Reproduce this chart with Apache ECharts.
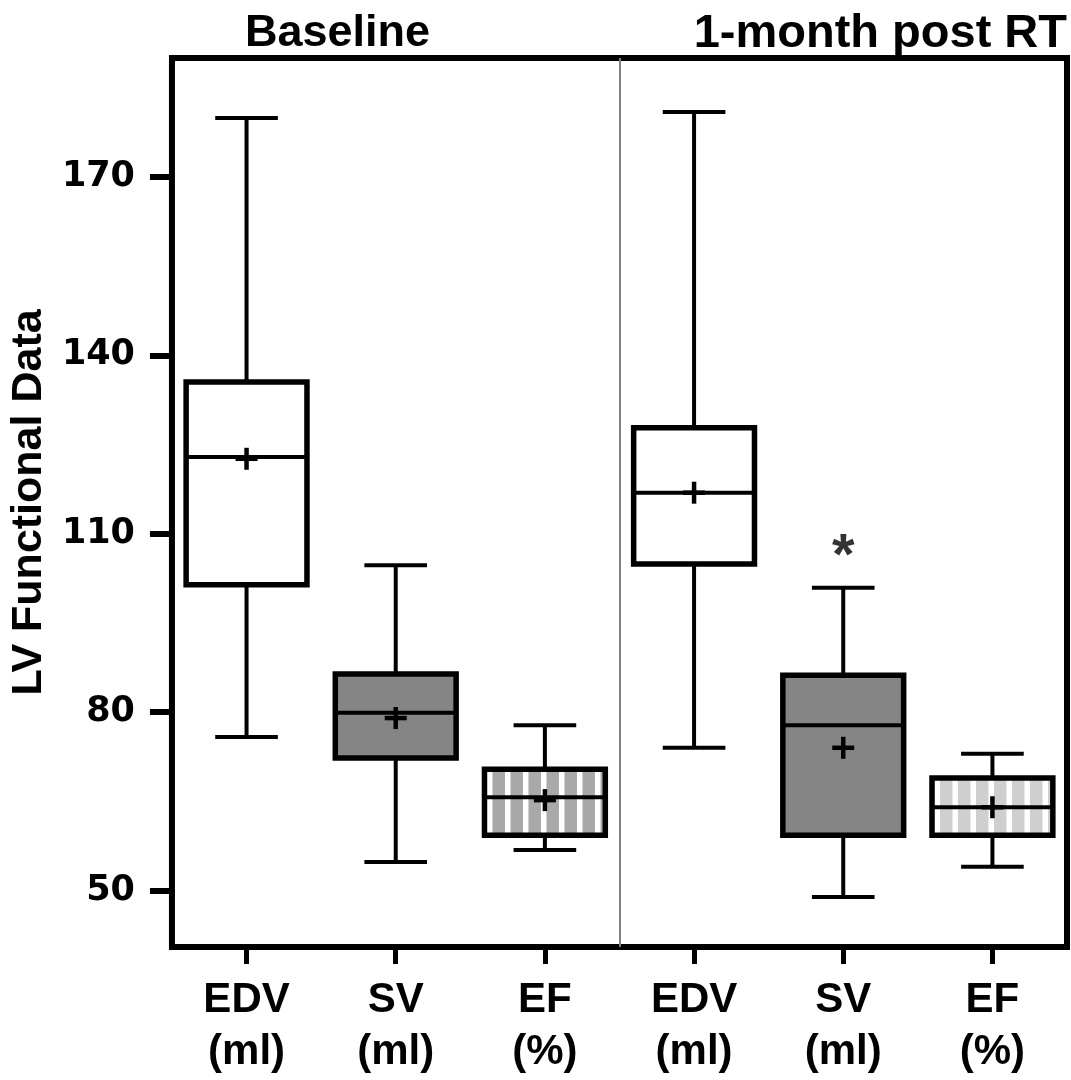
<!DOCTYPE html>
<html>
<head>
<meta charset="utf-8">
<script src="https://cdn.jsdelivr.net/npm/echarts@6/dist/echarts.min.js"></script>
<style>
html, body { margin: 0; padding: 0; background: #fff; }
#chart { width: 1071px; height: 1080px; }
</style>
</head>
<body>
<div id="chart"></div>
<script>
// categories (two groups of three)
var categories = ['EDV\n(ml)', 'SV\n(ml)', 'EF\n(%)', 'EDV\n(ml)', 'SV\n(ml)', 'EF\n(%)'];
var groupNames = ['Baseline', '1-month post RT'];
var groupDivider = [2.5];
var yTicks = [50, 80, 110, 140, 170];

// [min, q1, median, q3, max] per category
var boxValues = [
    [75.8, 101.4, 122.9, 135.5, 179.9],
    [54.8, 72.3, 79.9, 86.4, 104.7],
    [56.8, 59.3, 65.7, 70.4, 77.8],
    [74.0, 104.9, 116.9, 127.8, 180.9],
    [48.9, 59.3, 77.8, 86.2, 100.9],
    [54.0, 59.3, 64.0, 68.9, 73.0]
];
var meanValues = [122.6, 79.0, 65.2, 116.9, 74.0, 64.0];

// significance mark: [category index, value, text]
var sigMarks = [[4, 108.6, '*']];

// box looks (not data)
var boxFills = [
    {fill: '#ffffff'},
    {fill: '#858585'},
    {fill: '#ffffff', stripe: '#a9a9a9'},
    {fill: '#ffffff'},
    {fill: '#858585'},
    {fill: '#ffffff', stripe: '#cfcfcf'}
];

var boxData = [];
for (var i = 0; i < boxValues.length; i++) {
    boxData.push([i].concat(boxValues[i]).concat([meanValues[i]]));
}

function renderBox(params, api) {
    var idx = api.value(0);
    var band = api.size([1, 0])[0];
    var bw = band * 0.81, cw = band * 0.42, mw = 22;
    var x = api.coord([idx, 0])[0];
    var yMin = api.coord([idx, api.value(1)])[1];
    var yQ1 = api.coord([idx, api.value(2)])[1];
    var yMed = api.coord([idx, api.value(3)])[1];
    var yQ3 = api.coord([idx, api.value(4)])[1];
    var yMax = api.coord([idx, api.value(5)])[1];
    var yMean = api.coord([idx, api.value(6)])[1];
    var left = x - bw / 2, right = x + bw / 2;
    var line = {stroke: '#000', lineWidth: 4};
    var look = boxFills[idx];
    var kids = [];
    // whiskers and caps
    kids.push({type: 'line', shape: {x1: x, y1: yQ3, x2: x, y2: yMax}, style: line});
    kids.push({type: 'line', shape: {x1: x, y1: yQ1, x2: x, y2: yMin}, style: line});
    kids.push({type: 'line', shape: {x1: x - cw / 2, y1: yMax, x2: x + cw / 2, y2: yMax}, style: line});
    kids.push({type: 'line', shape: {x1: x - cw / 2, y1: yMin, x2: x + cw / 2, y2: yMin}, style: line});
    // box fill
    kids.push({type: 'rect', shape: {x: left, y: yQ3, width: bw, height: yQ1 - yQ3}, style: {fill: look.fill}});
    if (look.stripe) {
        var period = 18, gw = 12.5;
        for (var sx = left + 8 - period; sx < right; sx += period) {
            var a = Math.max(sx, left), b = Math.min(sx + gw, right);
            if (b > a) {
                kids.push({type: 'rect', shape: {x: a, y: yQ3, width: b - a, height: yQ1 - yQ3}, style: {fill: look.stripe}});
            }
        }
    }
    // box outline and median
    kids.push({type: 'rect', shape: {x: left, y: yQ3, width: bw, height: yQ1 - yQ3}, style: {fill: null, stroke: '#000', lineWidth: 5.5}});
    kids.push({type: 'line', shape: {x1: left, y1: yMed, x2: right, y2: yMed}, style: line});
    // mean cross
    kids.push({type: 'line', shape: {x1: x - mw / 2, y1: yMean, x2: x + mw / 2, y2: yMean}, style: {stroke: '#000', lineWidth: 4.5}});
    kids.push({type: 'line', shape: {x1: x, y1: yMean - mw / 2, x2: x, y2: yMean + mw / 2}, style: {stroke: '#000', lineWidth: 4.5}});
    return {type: 'group', children: kids};
}

var chart = echarts.init(document.getElementById('chart'));
chart.setOption({
    animation: false,
    backgroundColor: '#fff',
    title: [
        {text: groupNames[0], left: 245, top: 11, padding: 0,
         textStyle: {fontSize: 45, fontWeight: 'bold', fontFamily: 'Liberation Sans', color: '#000'}},
        {text: groupNames[1], right: 4, top: 11, padding: 0,
         textStyle: {fontSize: 47, fontWeight: 'bold', fontFamily: 'Liberation Sans', color: '#000'}}
    ],
    grid: {left: 167, right: 4, top: 58, bottom: 133, show: true, borderColor: '#000', borderWidth: 6, backgroundColor: 'transparent'},
    xAxis: [
        {
            type: 'category',
            data: categories,
            axisLine: {show: false, onZero: false},
            axisTick: {show: true, alignWithLabel: true, length: 17, lineStyle: {color: '#000', width: 5}},
            axisLabel: {interval: 0, margin: 27, fontSize: 42, lineHeight: 52, fontWeight: 'bold', fontFamily: 'Liberation Sans', color: '#000'},
            splitLine: {show: false}
        },
        {
            type: 'value',
            min: -0.5,
            max: 5.5,
            show: false
        }
    ],
    yAxis: {
        type: 'value',
        min: 40.5,
        max: 190,
        name: 'LV Functional Data',
        nameLocation: 'middle',
        nameRotate: 90,
        nameGap: 112,
        nameTextStyle: {fontSize: 43, fontWeight: 'bold', fontFamily: 'Liberation Sans', color: '#000'},
        axisLine: {show: false, onZero: false},
        axisTick: {show: true, length: 22, customValues: yTicks, lineStyle: {color: '#000', width: 6}},
        axisLabel: {customValues: yTicks, margin: 37, fontSize: 35, fontWeight: 'bold', fontFamily: 'DejaVu Sans', color: '#000'},
        splitLine: {show: false}
    },
    series: [
        {
            type: 'line',
            xAxisIndex: 1,
            data: [],
            markLine: {
                silent: true,
                symbol: 'none',
                label: {show: false},
                lineStyle: {color: '#808080', width: 2, type: 'solid'},
                data: groupDivider.map(function (v) { return {xAxis: v}; })
            },
            z: 1
        },
        {
            type: 'custom',
            renderItem: renderBox,
            data: boxData,
            encode: {x: 0, y: [1, 2, 3, 4, 5, 6]},
            z: 3
        },
        {
            type: 'scatter',
            symbolSize: 0,
            data: sigMarks.map(function (m) { return [m[0], m[1]]; }),
            label: {
                show: true,
                position: 'inside',
                offset: [0, 16],
                formatter: function (p) { return sigMarks[p.dataIndex][2]; },
                fontSize: 58,
                fontWeight: 'bold',
                fontFamily: 'Liberation Sans',
                color: '#000'
            },
            z: 4
        }
    ]
});
</script>
</body>
</html>
